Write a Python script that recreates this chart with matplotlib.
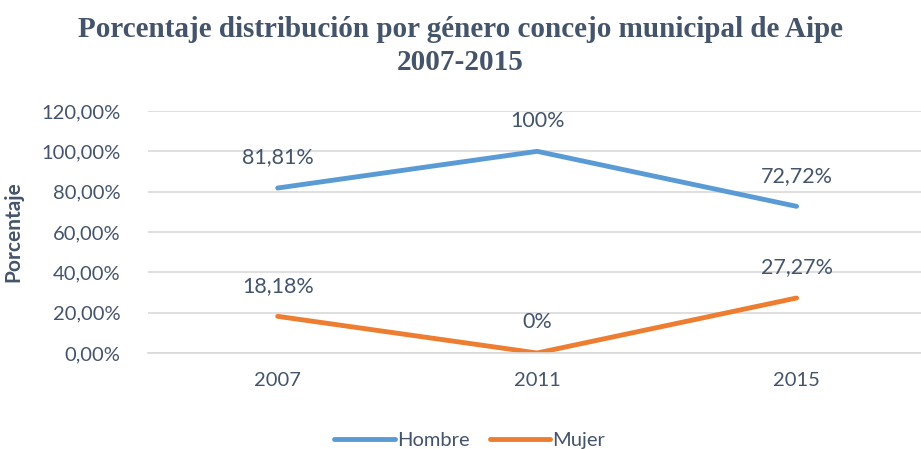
import matplotlib.pyplot as plt
from matplotlib.ticker import FuncFormatter

# Data
years = ['2007', '2011', '2015']
hombre = [0.8181, 1.00, 0.7272]
mujer = [0.1818, 0.00, 0.2727]
hombre_labels = ['81,81%', '100%', '72,72%']
mujer_labels = ['18,18%', '0%', '27,27%']

text_color = '#44546A'
blue = '#5B9BD5'
orange = '#ED7D31'

plt.rcParams['font.family'] = ['Lato', 'DejaVu Sans']

fig = plt.figure(figsize=(9.21, 4.49), dpi=100)
ax = fig.add_axes([0.1607, 0.2138, 0.845, 0.539])

x = list(range(len(years)))
ax.plot(x, hombre, color=blue, linewidth=3.5, solid_capstyle='round', label='Hombre')
ax.plot(x, mujer, color=orange, linewidth=3.5, solid_capstyle='round', label='Mujer')

for xi, v, lab in zip(x, hombre, hombre_labels):
    ax.annotate(lab, (xi, v), xytext=(0, 22), textcoords='offset points',
                ha='center', va='center', fontsize=15.5, color=text_color)
for xi, v, lab in zip(x, mujer, mujer_labels):
    ax.annotate(lab, (xi, v), xytext=(0, 22), textcoords='offset points',
                ha='center', va='center', fontsize=15.5, color=text_color)

ax.set_xlim(-0.5, 2.5)
ax.set_ylim(0, 1.2)
ax.set_yticks([0, 0.2, 0.4, 0.6, 0.8, 1.0, 1.2])
ax.yaxis.set_major_formatter(FuncFormatter(lambda v, p: f'{v*100:.2f}%'.replace('.', ',')))
ax.set_xticks(x)
ax.set_xticklabels(years)
ax.grid(axis='y', color='#D9D9D9', linewidth=1.2)
ax.set_axisbelow(True)
for s in ['top', 'right', 'left']:
    ax.spines[s].set_visible(False)
ax.spines['bottom'].set_color('#D9D9D9')
ax.spines['bottom'].set_linewidth(1.2)
ax.tick_params(axis='both', length=0, labelsize=14.5, labelcolor=text_color)
ax.tick_params(axis='y', pad=20)
ax.tick_params(axis='x', pad=14)

ax.set_ylabel('Porcentaje', fontsize=15, fontweight='bold', color=text_color)
ax.yaxis.set_label_coords(-0.16, 0.5)

fig.text(0.5, 0.898, 'Porcentaje distribución por género concejo municipal de Aipe\n2007-2015',
         ha='center', va='center', fontsize=21, fontweight='bold', color=text_color,
         family='Liberation Serif', linespacing=1.3)

fig.legend(loc='lower center', bbox_to_anchor=(0.51, -0.04), ncol=2, frameon=False,
           fontsize=14.5, labelcolor=text_color, handlelength=3.0, handletextpad=0.1,
           columnspacing=1.0)

fig.savefig('out.png', dpi=100)
